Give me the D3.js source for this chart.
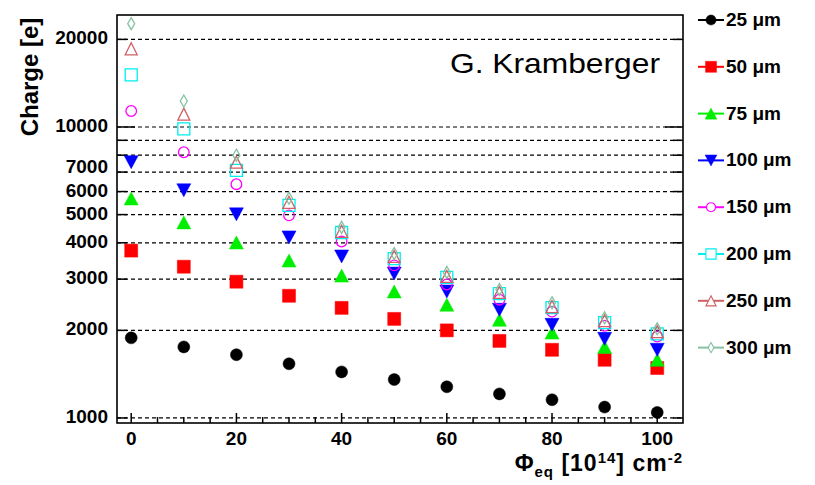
<!DOCTYPE html>
<html>
<head>
<meta charset="utf-8">
<script src="https://cdn.jsdelivr.net/npm/d3@7"></script>
<style>
  body { margin: 0; background: #fff; }
  text { font-family: "Liberation Sans", Arial, sans-serif; }
</style>
</head>
<body>
<div id="chart"></div>
<script>
// fluence points [10^14 cm^-2]
var fluence = [0, 10, 20, 30, 40, 50, 60, 70, 80, 90, 100];

// collected charge [e] for each thickness
var q25  = [1885, 1755, 1650, 1535, 1440, 1355, 1280, 1210, 1155, 1090, 1045];
var q50  = [3760, 3310, 2940, 2630, 2390, 2190, 2000, 1840, 1715, 1585, 1485];
var q75  = [5680, 4700, 4010, 3475, 3085, 2720, 2450, 2175, 1965, 1755, 1585];
var q100 = [7570, 6060, 5010, 4175, 3590, 3135, 2720, 2355, 2090, 1870, 1715];
var q150 = [11350, 8190, 6360, 4970, 4040, 3345, 2875, 2550, 2320, 2075, 1905];
var q200 = [15100, 9850, 7100, 5380, 4340, 3530, 3040, 2675, 2395, 2125, 1945];
var q250 = [18570, 11070, 7570, 5510, 4380, 3590, 3065, 2700, 2415, 2160, 1980];
var q300 = [22650, 12280, 8000, 5690, 4520, 3675, 3165, 2765, 2490, 2210, 2025];

var seriesNames = ["25 \u03bcm", "50 \u03bcm", "75 \u03bcm", "100 \u03bcm",
                   "150 \u03bcm", "200 \u03bcm", "250 \u03bcm", "300 \u03bcm"];

// axis ticks
var yGrid = [1000, 2000, 3000, 4000, 5000, 6000, 7000, 8000, 9000, 10000, 20000];
var yLabels = [1000, 2000, 3000, 4000, 5000, 6000, 7000, 10000, 20000];
var xMajor = [0, 20, 40, 60, 80, 100];
var xMinor = d3.range(0, 101, 5);

var width = 815, height = 485;
var plot = { left: 117, right: 683, top: 15, bottom: 423 };

var svg = d3.select("#chart")
  .append("svg")
  .attr("width", width)
  .attr("height", height);

var x = d3.scaleLinear()
  .domain([-2.7, 104.9])
  .range([plot.left, plot.right]);

var y = d3.scaleLog()
  .domain([961, 24260])
  .range([plot.bottom, plot.top]);

// custom marker shapes (ROOT-ish)
function triUp(w, h) {
  return { draw: function(ctx) {
    ctx.moveTo(0, -h / 2); ctx.lineTo(w / 2, h / 2); ctx.lineTo(-w / 2, h / 2); ctx.closePath();
  }};
}
function triDown(w, h) {
  return { draw: function(ctx) {
    ctx.moveTo(0, h / 2); ctx.lineTo(w / 2, -h / 2); ctx.lineTo(-w / 2, -h / 2); ctx.closePath();
  }};
}
function box(s) {
  return { draw: function(ctx) { ctx.rect(-s / 2, -s / 2, s, s); } };
}
function diamond(w, h) {
  return { draw: function(ctx) {
    ctx.moveTo(0, -h / 2); ctx.lineTo(w / 2, 0); ctx.lineTo(0, h / 2); ctx.lineTo(-w / 2, 0); ctx.closePath();
  }};
}
function circ(r) {
  return { draw: function(ctx) { ctx.moveTo(r, 0); ctx.arc(0, 0, r, 0, 2 * Math.PI); } };
}

var series = [
  { name: seriesNames[0], values: q25,  color: "#000000", fill: true,  shape: circ(6) },
  { name: seriesNames[1], values: q50,  color: "#ff0000", fill: true,  shape: box(13) },
  { name: seriesNames[2], values: q75,  color: "#00ee00", fill: true,  shape: triUp(14, 13) },
  { name: seriesNames[3], values: q100, color: "#0000ff", fill: true,  shape: triDown(14, 13) },
  { name: seriesNames[4], values: q150, color: "#ff00ff", fill: false, shape: circ(5.3) },
  { name: seriesNames[5], values: q200, color: "#00eeee", fill: false, shape: box(12) },
  { name: seriesNames[6], values: q250, color: "#d06064", fill: false, shape: triUp(12, 12) },
  { name: seriesNames[7], values: q300, color: "#85c2a3", fill: false, shape: diamond(7, 12) }
];

// dashed grid lines
svg.append("g")
  .selectAll("line")
  .data(yGrid)
  .enter()
  .append("line")
  .attr("x1", plot.left)
  .attr("x2", plot.right)
  .attr("y1", function(d) { return y(d); })
  .attr("y2", function(d) { return y(d); })
  .attr("stroke", "#000")
  .attr("stroke-width", 1.2)
  .attr("stroke-dasharray", "4,3");

// y ticks, inside on both sides
var yTickLen = function(d) { return d === 10000 ? 18 : 10; };
svg.append("g")
  .selectAll("line")
  .data(yGrid)
  .enter()
  .append("line")
  .attr("x1", plot.left)
  .attr("x2", function(d) { return plot.left + yTickLen(d); })
  .attr("y1", function(d) { return y(d); })
  .attr("y2", function(d) { return y(d); })
  .attr("stroke", "#000")
  .attr("stroke-width", 1.5);
svg.append("g")
  .selectAll("line")
  .data(yGrid)
  .enter()
  .append("line")
  .attr("x1", plot.right)
  .attr("x2", function(d) { return plot.right - yTickLen(d); })
  .attr("y1", function(d) { return y(d); })
  .attr("y2", function(d) { return y(d); })
  .attr("stroke", "#000")
  .attr("stroke-width", 1.5);

// x ticks
svg.append("g")
  .selectAll("line")
  .data(xMinor)
  .enter()
  .append("line")
  .attr("x1", function(d) { return x(d); })
  .attr("x2", function(d) { return x(d); })
  .attr("y1", plot.bottom)
  .attr("y2", function(d) { return plot.bottom - (d % 20 === 0 ? 10 : 6); })
  .attr("stroke", "#000")
  .attr("stroke-width", 1.5);

// frame
svg.append("rect")
  .attr("x", plot.left)
  .attr("y", plot.top)
  .attr("width", plot.right - plot.left)
  .attr("height", plot.bottom - plot.top)
  .attr("fill", "none")
  .attr("stroke", "#000")
  .attr("stroke-width", 1.6);

// y tick labels (7000 nudged up as in the original to clear 6000)
svg.append("g")
  .selectAll("text")
  .data(yLabels)
  .enter()
  .append("text")
  .attr("x", 108)
  .attr("y", function(d) { return y(d) + (d === 7000 ? 1 : 5); })
  .attr("text-anchor", "end")
  .attr("font-size", 19)
  .attr("font-weight", "bold")
  .text(function(d) { return d; });

// x tick labels
svg.append("g")
  .selectAll("text")
  .data(xMajor)
  .enter()
  .append("text")
  .attr("x", function(d) { return x(d); })
  .attr("y", 445)
  .attr("text-anchor", "middle")
  .attr("font-size", 19)
  .attr("font-weight", "bold")
  .text(function(d) { return d; });

// axis titles
svg.append("text")
  .attr("transform", "translate(38, 77) rotate(-90)")
  .attr("text-anchor", "middle")
  .attr("font-size", 24)
  .attr("font-weight", "bold")
  .text("Charge [e]");

var xt = svg.append("text")
  .attr("x", plot.right)
  .attr("y", 471)
  .attr("text-anchor", "end")
  .attr("font-size", 23)
  .attr("letter-spacing", 1)
  .attr("font-weight", "bold");
xt.append("tspan").text("\u03a6");
xt.append("tspan").attr("font-size", 15).attr("dy", 6).text("eq");
xt.append("tspan").attr("dy", -6).text(" [10");
xt.append("tspan").attr("font-size", 15).attr("dy", -8).text("14");
xt.append("tspan").attr("dy", 8).text("] cm");
xt.append("tspan").attr("font-size", 15).attr("dy", -8).text("-2");

svg.append("text")
  .attr("x", 450)
  .attr("y", 73)
  .attr("font-size", 28)
  .attr("textLength", 210)
  .attr("lengthAdjust", "spacingAndGlyphs")
  .text("G. Kramberger");

// data markers
var symbol = d3.symbol();
series.forEach(function(s) {
  svg.append("g")
    .selectAll("path")
    .data(s.values)
    .enter()
    .append("path")
    .attr("d", symbol.type(s.shape)())
    .attr("transform", function(d, i) {
      return "translate(" + x(fluence[i]) + "," + y(d) + ")";
    })
    .attr("fill", s.fill ? s.color : "none")
    .attr("stroke", s.color)
    .attr("stroke-width", s.fill ? 0.5 : 1.3);
});

// legend
var legend = svg.append("g")
  .selectAll("g")
  .data(series)
  .enter()
  .append("g")
  .attr("transform", function(d, i) { return "translate(711," + (20 + i * 46.8) + ")"; });

legend.append("line")
  .attr("x1", -13)
  .attr("x2", 13)
  .attr("stroke", function(d) { return d.color; })
  .attr("stroke-width", 2);
legend.append("path")
  .attr("d", function(d) { return d3.symbol().type(d.shape)(); })
  .attr("fill", function(d) { return d.fill ? d.color : "#fff"; })
  .attr("stroke", function(d) { return d.color; })
  .attr("stroke-width", function(d) { return d.fill ? 0.5 : 1.3; })
  .attr("transform", "scale(0.85)");
legend.append("text")
  .attr("x", 15)
  .attr("y", 6)
  .attr("font-size", 19)
  .attr("font-weight", "bold")
  .text(function(d) { return d.name; });
</script>
</body>
</html>
